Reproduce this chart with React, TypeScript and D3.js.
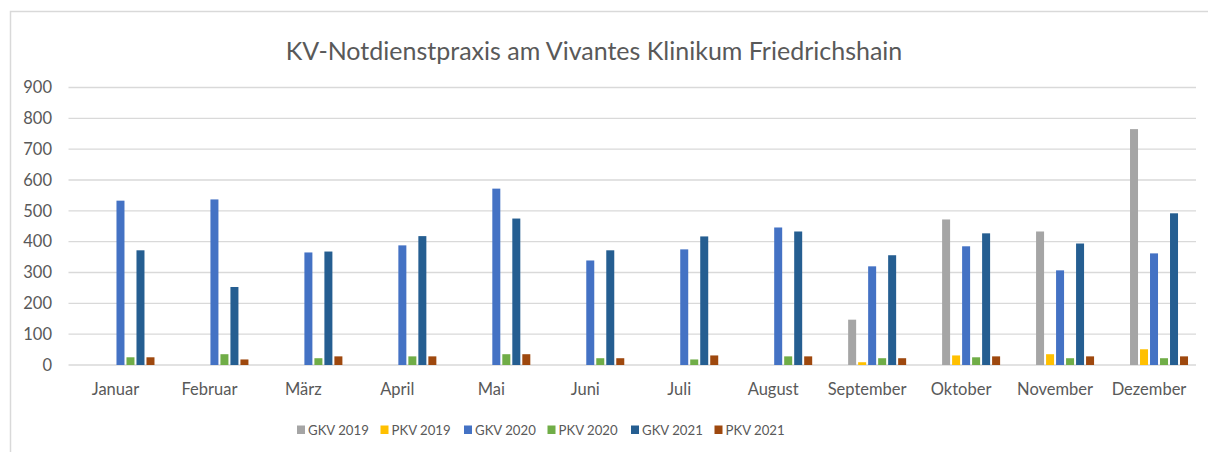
import React from "react";
import * as d3 from "d3";

const months = ["Januar", "Februar", "März", "April", "Mai", "Juni", "Juli", "August", "September", "Oktober", "November", "Dezember"];
const seriesNames = ["GKV 2019", "PKV 2019", "GKV 2020", "PKV 2020", "GKV 2021", "PKV 2021"];
const gkv2019 = [null, null, null, null, null, null, null, null, 147, 472, 433, 765];
const pkv2019 = [null, null, null, null, null, null, null, null, 9, 31, 35, 51];
const gkv2020 = [533, 537, 365, 388, 572, 339, 375, 446, 320, 385, 307, 362];
const pkv2020 = [25, 35, 22, 28, 35, 22, 18, 28, 22, 25, 22, 22];
const gkv2021 = [372, 253, 368, 418, 475, 372, 417, 433, 356, 427, 394, 492];
const pkv2021 = [25, 18, 28, 28, 35, 22, 31, 28, 22, 28, 28, 28];
const yTicks = [0, 100, 200, 300, 400, 500, 600, 700, 800, 900];
const title = "KV-Notdienstpraxis am Vivantes Klinikum Friedrichshain";

const seriesValues = [gkv2019, pkv2019, gkv2020, pkv2020, gkv2021, pkv2021];
const colors = ["#A5A5A5", "#FFC000", "#4472C4", "#70AD47", "#255E91", "#9E480E"];
// Excel cluster has two empty slots before the visible series
const slotKeys = ["_empty1", "_empty2", ...seriesNames];

export default function App() {
  const W = 1208, H = 452;
  const font = "Lato, 'Open Sans', sans-serif";
  const textColor = "#595959";
  const x0 = d3.scaleBand<string>().domain(months).range([68.5, 1196]).padding(0);
  const bw = x0.bandwidth();
  const x1 = d3.scaleBand<string>().domain(slotKeys).range([bw / 2 - 40, bw / 2 + 40]).paddingInner(0.2).paddingOuter(0.1);
  const y = d3.scaleLinear().domain([0, 900]).range([365, 87.5]);
  const legendX0 = 297, legendStep = 83.5;

  return (
    <svg width={W} height={H} style={{ position: "absolute", left: 0, top: 0, background: "#fff" }} fontFamily={font}>
      <rect x={10.5} y={11.5} width={1230} height={470} fill="#fff" stroke="#D9D9D9" strokeWidth={1.5} />
      <text x={594} y={60} textAnchor="middle" fontSize={25} fill={textColor}>{title}</text>
      {yTicks.map((t) => (
        <g key={t}>
          <line x1={68.5} x2={1196} y1={y(t)} y2={y(t)} stroke="#D9D9D9" strokeWidth={1.4} />
          <text x={52} y={y(t)} dy="0.35em" textAnchor="end" fontSize={16.5} fill={textColor}>{t}</text>
        </g>
      ))}
      {months.map((m, i) => (
        <g key={m} transform={`translate(${x0(m)},0)`}>
          {seriesNames.map((s, si) => {
            const v = seriesValues[si][i];
            if (v == null) return null;
            return (
              <rect key={s} x={x1(s)} width={x1.bandwidth()} y={y(v)} height={y(0) - y(v)} fill={colors[si]} />
            );
          })}
          <text x={bw / 2} y={395} textAnchor="middle" fontSize={16.5} fill={textColor}>{m}</text>
        </g>
      ))}
      {seriesNames.map((s, si) => (
        <g key={s} transform={`translate(${legendX0 + si * legendStep},0)`}>
          <rect x={0} y={425.5} width={8} height={8.5} fill={colors[si]} />
          <text x={11} y={435} fontSize={13.2} fill={textColor}>{s}</text>
        </g>
      ))}
    </svg>
  );
}
